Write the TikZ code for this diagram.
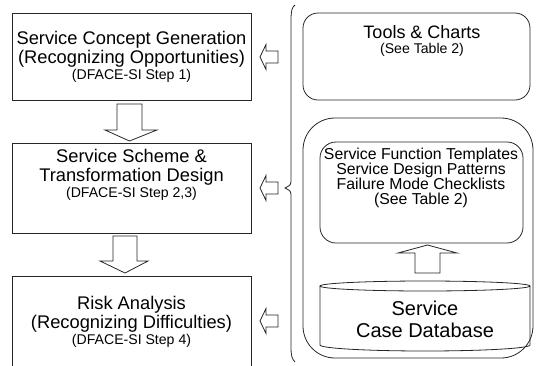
\documentclass[tikz,border=0pt]{standalone}
\usepackage{fontspec}
\setmainfont{Liberation Sans}
\tikzset{
  stepbox/.style={draw=black!85, line width=0.9pt},
  blockarrow/.style={draw=black!85, line width=0.8pt, fill=white},
  roundbox/.style={draw=black!85, line width=0.8pt},
  bigtxt/.style={align=center, inner sep=0pt, font=\fontsize{18.3}{19}\selectfont},
  midtxt/.style={align=center, inner sep=0pt, font=\fontsize{15.8}{14.8}\selectfont},
}
\newcommand{\smalltxt}[1]{{\fontsize{14.1}{14}\selectfont #1}}
\begin{document}
\begin{tikzpicture}[x=1pt,y=-1pt]
\useasboundingbox (0,0) rectangle (536,365);
\clip (0,0) rectangle (536,365);

% left step boxes
\node[stepbox, minimum width=239pt, minimum height=87pt, anchor=north west] (b1) at (12,13) {};
\node[stepbox, minimum width=239pt, minimum height=90pt, anchor=north west] (b2) at (12,143) {};
\node[stepbox, minimum width=239pt, minimum height=100pt, anchor=north west] (b3) at (12,276) {};

\node[bigtxt] (t1) at (131.5,56.5) {Service Concept Generation\\(Recognizing Opportunities)\\[-3pt]\smalltxt{(DFACE-SI Step 1)}};
\node[bigtxt] (t2) at (131.5,175) {Service Scheme \&\\Transformation Design\\[-3pt]\smalltxt{(DFACE-SI Step 2,3)}};
\node[bigtxt] (t3) at (131.5,321.5) {Risk Analysis\\(Recognizing Difficulties)\\[-3pt]\smalltxt{(DFACE-SI Step 4)}};

% down arrows
\draw[blockarrow] (117,104) -- (142,104) -- (142,130) -- (157,130) -- (129.5,141) -- (105,130) -- (117,130) -- cycle;
\draw[blockarrow] (113,236) -- (137,236) -- (137,261) -- (148,261) -- (125,273) -- (100,261) -- (113,261) -- cycle;

% left-pointing arrows
\foreach \c in {57,188,321}{
  \draw[blockarrow] (260,\c) -- (266,\c-12.5) -- (266,\c-6) -- (278,\c-6) -- (278,\c+6) -- (266,\c+6) -- (266,\c+12.5) -- cycle;
}

% brace
\draw[black!85, line width=0.8pt] (295,5) .. controls (292,7) and (291,11) .. (291,20) -- (291,178)
  .. controls (291,185) .. (285,188) .. controls (291,191) .. (291,198) -- (291,347)
  .. controls (291,356) and (292,359) .. (295,362);

% tools box
\draw[roundbox, rounded corners=15pt] (303,13) rectangle (530,100);
\node[bigtxt, font=\fontsize{18}{19}\selectfont] (tools) at (422,41) {Tools \& Charts\\[-4pt]\smalltxt{(See Table 2)}};

% big rounded box
\draw[roundbox, rounded corners=32pt] (303,118) rectangle (533,358);

% inner box
\draw[roundbox, rounded corners=16pt] (320,142) rectangle (523,243);
\node[midtxt] (inner) at (421,178) {Service Function Templates\\Service Design Patterns\\Failure Mode Checklists\\(See Table 2)};

% up arrow
\draw[blockarrow] (415,273) -- (440,273) -- (440,253) -- (457,253) -- (427.5,245) -- (398,253) -- (415,253) -- cycle;

% cylinder
\draw[roundbox] (320,286) -- (320,345) arc[start angle=180, end angle=0, x radius=105, y radius=6] -- (530,286);
\draw[roundbox] (425,286) ellipse [x radius=105, y radius=5];
\node[bigtxt, font=\fontsize{20}{22}\selectfont] (db) at (425,319) {Service\\Case Database};
\end{tikzpicture}
\end{document}
